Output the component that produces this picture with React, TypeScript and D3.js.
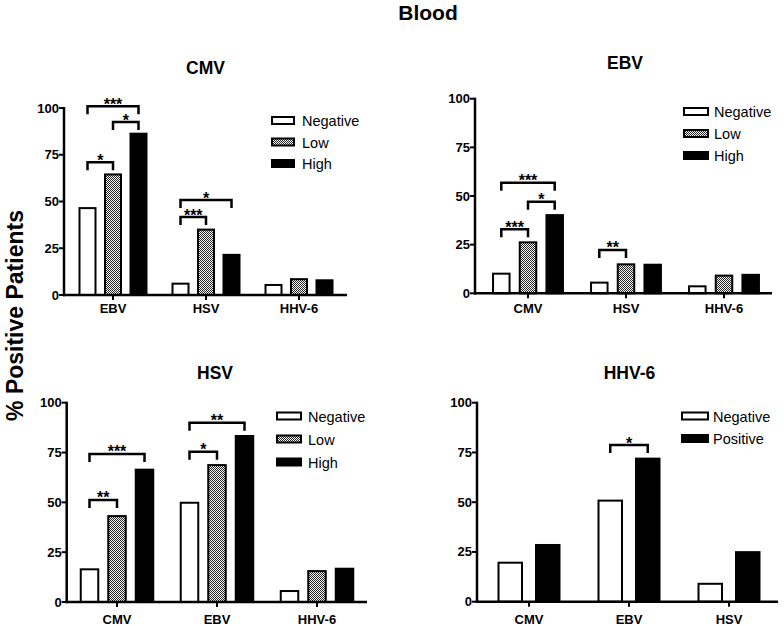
import React from "react";
import * as d3 from "d3";

// ---------- data ----------
const yTicks = [0, 25, 50, 75, 100];

const cmvCategories = ["EBV", "HSV", "HHV-6"];
const cmvNegative = [47, 6.6, 5.9];
const cmvLow = [65, 35.5, 9];
const cmvHigh = [86.8, 22, 8.4];
const cmvBrackets = [
  { cat: "EBV", from: "Negative", to: "High", level: 101, label: "***" },
  { cat: "EBV", from: "Low", to: "High", level: 92.5, label: "*" },
  { cat: "EBV", from: "Negative", to: "Low", level: 71, label: "*" },
  { cat: "HSV", from: "Negative", to: "High", level: 50.8, label: "*" },
  { cat: "HSV", from: "Negative", to: "Low", level: 41.7, label: "***" },
];

const ebvCategories = ["CMV", "HSV", "HHV-6"];
const ebvNegative = [10.6, 6, 4.1];
const ebvLow = [26.7, 15.4, 9.6];
const ebvHigh = [40.7, 15.2, 10];
const ebvBrackets = [
  { cat: "CMV", from: "Negative", to: "High", level: 56.8, label: "***" },
  { cat: "CMV", from: "Low", to: "High", level: 47.1, label: "*" },
  { cat: "CMV", from: "Negative", to: "Low", level: 32.9, label: "***" },
  { cat: "HSV", from: "Negative", to: "Low", level: 22.3, label: "**" },
];

const hsvCategories = ["CMV", "EBV", "HHV-6"];
const hsvNegative = [16.9, 50.3, 6];
const hsvLow = [43.6, 69.2, 16];
const hsvHigh = [66.9, 83.8, 17.2];
const hsvBrackets = [
  { cat: "CMV", from: "Negative", to: "High", level: 74.3, label: "***" },
  { cat: "CMV", from: "Negative", to: "Low", level: 51.2, label: "**" },
  { cat: "EBV", from: "Negative", to: "High", level: 90, label: "**" },
  { cat: "EBV", from: "Negative", to: "Low", level: 75.4, label: "*" },
];

const hhv6Categories = ["CMV", "EBV", "HSV"];
const hhv6Negative = [20.1, 51.3, 9.5];
const hhv6Positive = [29, 72.4, 25.4];
const hhv6Brackets = [
  { cat: "EBV", from: "Negative", to: "Positive", level: 78.7, label: "*" },
];

// ---------- layout ----------
type Series = { name: string; values: number[]; fill: string };
type Bracket = { cat: string; from: string; to: string; level: number; label: string };

const FONT = "'Liberation Sans', Arial, Helvetica, sans-serif";

const panels = [
  {
    id: "p1", title: "CMV", titleX: 205.5, titleY: 74,
    axisX: 64, axisEnd: 347, y0: 295, y100: 108,
    groupRange: [66.5, 345.5], off: 25.5, barW: 18, catY: 313,
    legend: { x: 271, w: 24, textX: 302, y0: 126, dy: 21.5 },
    categories: cmvCategories,
    series: [
      { name: "Negative", values: cmvNegative, fill: "#fff" },
      { name: "Low", values: cmvLow, fill: "url(#checks)" },
      { name: "High", values: cmvHigh, fill: "#000" },
    ],
    brackets: cmvBrackets,
  },
  {
    id: "p2", title: "EBV", titleX: 625, titleY: 69,
    axisX: 475, axisEnd: 772, y0: 293.3, y100: 98.7,
    groupRange: [479, 773], off: 26.7, barW: 18.5, catY: 313,
    legend: { x: 683, w: 26, textX: 714, y0: 117, dy: 22 },
    categories: ebvCategories,
    series: [
      { name: "Negative", values: ebvNegative, fill: "#fff" },
      { name: "Low", values: ebvLow, fill: "url(#checks)" },
      { name: "High", values: ebvHigh, fill: "#000" },
    ],
    brackets: ebvBrackets,
  },
  {
    id: "p3", title: "HSV", titleX: 215, titleY: 379,
    axisX: 66.7, axisEnd: 367, y0: 602, y100: 402.7,
    groupRange: [67, 367], off: 27.5, barW: 19.5, catY: 624,
    legend: { x: 276, w: 26, textX: 308, y0: 421.5, dy: 23 },
    categories: hsvCategories,
    series: [
      { name: "Negative", values: hsvNegative, fill: "#fff" },
      { name: "Low", values: hsvLow, fill: "url(#checks)" },
      { name: "High", values: hsvHigh, fill: "#000" },
    ],
    brackets: hsvBrackets,
  },
  {
    id: "p4", title: "HHV-6", titleX: 629.5, titleY: 379,
    axisX: 477, axisEnd: 778, y0: 601.7, y100: 402.7,
    groupRange: [479, 779], off: 37.5, barW: 25.5, catY: 624,
    legend: { x: 681, w: 28, textX: 713, y0: 421.5, dy: 22.5 },
    categories: hhv6Categories,
    series: [
      { name: "Negative", values: hhv6Negative, fill: "#fff" },
      { name: "Positive", values: hhv6Positive, fill: "#000" },
    ],
    brackets: hhv6Brackets,
  },
];

function Panel({ p }: { p: any }) {
  const y = d3.scaleLinear().domain([0, 100]).range([p.y0, p.y100]);
  const x = d3.scaleBand<string>().domain(p.categories).range(p.groupRange).padding(0);
  const names = (p.series as Series[]).map((s) => s.name);
  const n = names.length;
  const inner = d3.scaleBand<string>().domain(names).range([(-n * p.off) / 2, (n * p.off) / 2]);
  const gc = (c: string) => (x(c) as number) + x.bandwidth() / 2;
  const bc = (c: string, s: string) => gc(c) + (inner(s) as number) + inner.bandwidth() / 2;

  return (
    <g>
      <text x={p.titleX} y={p.titleY} textAnchor="middle" fontFamily={FONT} fontWeight="bold" fontSize={17.5}>
        {p.title}
      </text>
      {/* bars */}
      {(p.series as Series[]).map((s) =>
        s.values.map((v, i) => {
          const c = p.categories[i];
          const cx = bc(c, s.name);
          const top = y(v);
          return (
            <rect
              key={s.name + c}
              x={cx - p.barW / 2 + 1}
              y={top + 1}
              width={p.barW - 2}
              height={Math.max(0, p.y0 - top - 1)}
              fill={s.fill}
              stroke="#000"
              strokeWidth={2}
            />
          );
        })
      )}
      {/* y axis */}
      <line x1={p.axisX} x2={p.axisX} y1={p.y100 - 1} y2={p.y0 + 1.2} stroke="#000" strokeWidth={2.5} />
      {yTicks.map((t) => (
        <g key={t}>
          <line x1={p.axisX - 5} x2={p.axisX} y1={y(t)} y2={y(t)} stroke="#000" strokeWidth={2} />
          <text x={p.axisX - 5} y={y(t) + 4.5} textAnchor="end" fontFamily={FONT} fontWeight="bold" fontSize={13}>
            {t}
          </text>
        </g>
      ))}
      {/* x axis */}
      <line x1={p.axisX - 1.2} x2={p.axisEnd} y1={p.y0} y2={p.y0} stroke="#000" strokeWidth={2.5} />
      {p.categories.map((c: string) => (
        <g key={c}>
          <line x1={gc(c)} x2={gc(c)} y1={p.y0} y2={p.y0 + 5} stroke="#000" strokeWidth={2} />
          <text x={gc(c)} y={p.catY} textAnchor="middle" fontFamily={FONT} fontWeight="bold" fontSize={13}>
            {c}
          </text>
        </g>
      ))}
      {/* significance brackets */}
      {(p.brackets as Bracket[]).map((b, i) => {
        const x1 = bc(b.cat, b.from);
        const x2 = bc(b.cat, b.to);
        const by = y(b.level);
        return (
          <g key={i}>
            <path
              d={`M${x1},${by + 8}V${by}H${x2}V${by + 8}`}
              fill="none"
              stroke="#000"
              strokeWidth={2.5}
            />
            <text x={(x1 + x2) / 2} y={by + 3.5} textAnchor="middle" fontFamily={FONT} fontWeight="bold" fontSize={16}>
              {b.label}
            </text>
          </g>
        );
      })}
      {/* legend */}
      {(p.series as Series[]).map((s, i) => {
        const by = p.legend.y0 + i * p.legend.dy;
        return (
          <g key={s.name}>
            <rect x={p.legend.x + 1} y={by - 9} width={p.legend.w - 2} height={7} fill={s.fill} stroke="#000" strokeWidth={2} />
            <text x={p.legend.textX} y={by} fontFamily={FONT} fontSize={14.5}>
              {s.name}
            </text>
          </g>
        );
      })}
    </g>
  );
}

export default function App() {
  return (
    <svg width={784} height={626} style={{ position: "absolute", left: 0, top: 0, background: "#fff" }}>
      <defs>
        <pattern id="checks" width={2} height={2} patternUnits="userSpaceOnUse">
          <rect width={2} height={2} fill="#f4f4f4" />
          <rect x={0} y={0} width={1} height={1} fill="#2a2a2a" />
          <rect x={1} y={1} width={1} height={1} fill="#2a2a2a" />
        </pattern>
      </defs>
      <rect width={784} height={626} fill="#fff" />
      <text x={428} y={20} textAnchor="middle" fontFamily={FONT} fontWeight="bold" fontSize={21}>
        Blood
      </text>
      <text
        transform="translate(23,315.5) rotate(-90)"
        textAnchor="middle"
        fontFamily={FONT}
        fontWeight="bold"
        fontSize={23}
      >
        % Positive Patients
      </text>
      {panels.map((p) => (
        <Panel key={p.id} p={p} />
      ))}
    </svg>
  );
}
